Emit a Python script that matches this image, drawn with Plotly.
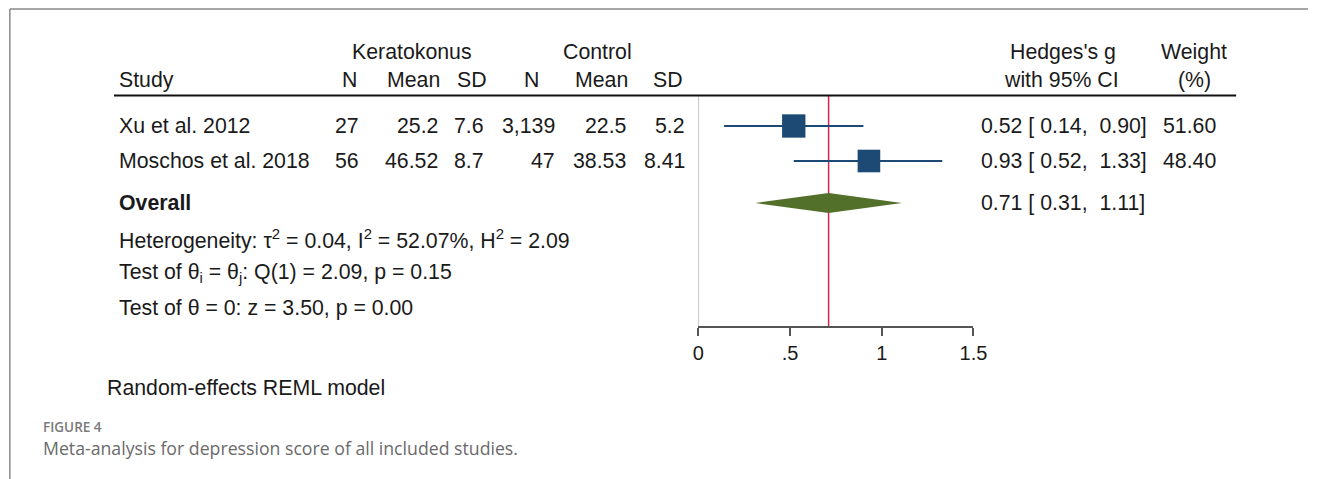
import plotly.graph_objects as go

W, H = 1322, 479

# ---------------- data ----------------
studies = ["Xu et al. 2012", "Moschos et al. 2018"]
k_n = ["27", "56"]
k_mean = ["25.2", "46.52"]
k_sd = ["7.6", "8.7"]
c_n = ["3,139", "47"]
c_mean = ["22.5", "38.53"]
c_sd = ["5.2", "8.41"]
g = [0.52, 0.93]
ci_lo = [0.14, 0.52]
ci_hi = [0.90, 1.33]
weight = [51.60, 48.40]
overall_g = 0.71
overall_lo = 0.31
overall_hi = 1.11
x_ticks = [0, 0.5, 1, 1.5]
x_tick_labels = ["0", ".5", "1", "1.5"]
stats_lines = [
    "Heterogeneity: \u03c4<sup>2</sup> = 0.04, I<sup>2</sup> = 52.07%, H<sup>2</sup> = 2.09",
    "Test of \u03b8<sub>i</sub> = \u03b8<sub>j</sub>: Q(1) = 2.09, p = 0.15",
    "Test of \u03b8 = 0: z = 3.50, p = 0.00",
]
model_note = "Random-effects REML model"
fig_label = "FIGURE 4"
caption = "Meta-analysis for depression score of all included studies."

# ---------------- layout helpers ----------------
study_rows = [1, 2]
overall_row = 3.2
stats_rows = [4.25, 5.2, 6.2]
Y_TOP_PX, Y_BOT_PX, ROW_PX = 91, 326, 35
y_max = (Y_BOT_PX - Y_TOP_PX) / ROW_PX

# horizontal calibration of the photographed page
SX, OX = 0.983, 6.2

def px(x):
    return ((x - OX) / SX) / W

def py(y):
    return 1 - y / H

FONT = "Liberation Sans, Arial, sans-serif"
CAP_FONT = "Open Sans, Noto Sans, sans-serif"
TXT = "#1a1a1a"
FS = 21.3
BLUE = "#1c4a74"
GREEN = "#52702a"
RED = "#d6244c"

fig = go.Figure()

# CI lines + weighted squares
fig.add_trace(go.Scatter(
    x=g, y=study_rows, mode="markers",
    marker=dict(symbol="square", color=BLUE, opacity=1,
                size=[3.25 * (w ** 0.5) for w in weight], line=dict(width=0)),
    error_x=dict(type="data", symmetric=False,
                 array=[h - m for h, m in zip(ci_hi, g)],
                 arrayminus=[m - l for m, l in zip(g, ci_lo)],
                 width=0, thickness=2, color=BLUE),
    hoverinfo="skip", cliponaxis=False,
))

# overall diamond
dh = 10 / ROW_PX
fig.add_trace(go.Scatter(
    x=[overall_lo, overall_g, overall_hi, overall_g, overall_lo],
    y=[overall_row, overall_row - dh, overall_row, overall_row + dh, overall_row],
    mode="lines", fill="toself", fillcolor=GREEN,
    line=dict(width=0, color=GREEN), hoverinfo="skip",
))

shapes = []
y_line_top = (96 - Y_TOP_PX) / ROW_PX
# no-effect line
shapes.append(dict(type="line", xref="x", yref="y", x0=0, x1=0, y0=y_line_top, y1=y_max,
                   line=dict(color="#a8a8a8", width=1.3), layer="below"))
# overall estimate line
shapes.append(dict(type="line", xref="x", yref="y", x0=overall_g, x1=overall_g, y0=y_line_top, y1=y_max,
                   line=dict(color=RED, width=1.5), layer="below"))
# header rule
shapes.append(dict(type="line", xref="paper", yref="paper", x0=px(114), x1=px(1234), y0=py(95.5), y1=py(95.5),
                   line=dict(color="#111", width=2)))
# frame (top + left)
shapes.append(dict(type="line", xref="paper", yref="paper", x0=px(10), x1=1, y0=py(9), y1=py(9),
                   line=dict(color="#8a8a8a", width=1.5)))
shapes.append(dict(type="line", xref="paper", yref="paper", x0=px(10), x1=px(10), y0=py(9), y1=0,
                   line=dict(color="#8a8a8a", width=1.5)))

ann = []

def txt(text, x, y, anchor="left", yref="paper", size=FS, color=TXT, family=FONT, weight=None):
    f = dict(size=size, color=color, family=family)
    if weight is not None:
        f["weight"] = weight
    ann.append(dict(text=text, x=px(x), y=(py(y) if yref == "paper" else y), xref="paper", yref=yref,
                    xanchor=anchor, yanchor="middle", showarrow=False, borderpad=0, font=f))

# headers
txt("Keratokonus", 411, 52, "center")
txt("Control", 597, 52, "center")
txt("Hedges's g", 1061, 52, "center")
txt("Weight", 1192, 52, "center")
txt("Study", 118, 80, "left")
txt("N", 358, 80, "right")
txt("Mean", 440, 80, "right")
txt("SD", 487, 80, "right")
txt("N", 539, 80, "right")
txt("Mean", 628, 80, "right")
txt("SD", 683, 80, "right")
txt("with 95% CI", 1060, 80, "center")
txt("(%)", 1192, 80, "center")

# study rows
for i, r in enumerate(study_rows):
    txt(studies[i], 118, r, "left", yref="y")
    txt(k_n[i], 360, r, "right", yref="y")
    txt(k_mean[i], 438, r, "right", yref="y")
    txt(k_sd[i], 484, r, "right", yref="y")
    txt(c_n[i], 555, r, "right", yref="y")
    txt(c_mean[i], 626, r, "right", yref="y")
    txt(c_sd[i], 685, r, "right", yref="y")
    txt(f"{g[i]:.2f} [ {ci_lo[i]:.2f}, \u00a0{ci_hi[i]:.2f}]", 978, r, "left", yref="y")
    txt(f"{weight[i]:.2f}", 1215, r, "right", yref="y")

txt("Overall", 118, overall_row, "left", yref="y", weight="bold")
txt(f"{overall_g:.2f} [ {overall_lo:.2f}, \u00a0{overall_hi:.2f}]", 978, overall_row, "left", yref="y")
for s, r in zip(stats_lines, stats_rows):
    txt(s, 118, r, "left", yref="y")

txt(model_note, 106, 388, "left")
txt(fig_label, 42, 427, "left", size=13.5, color="#7a7a7a", family=CAP_FONT, weight=600)
txt(caption, 42, 448, "left", size=17.7, color="#6a6a6a", family=CAP_FONT)

fig.update_layout(
    width=W, height=H,
    margin=dict(l=0, r=0, t=0, b=0),
    paper_bgcolor="white", plot_bgcolor="white",
    showlegend=False,
    shapes=shapes, annotations=ann,
    xaxis=dict(domain=[px(697.3), px(971.8)], range=[0, 1.5],
               showline=True, linecolor="#555", linewidth=1.5,
               ticks="outside", ticklen=8, tickwidth=1.5, tickcolor="#555",
               tickvals=x_ticks, ticktext=x_tick_labels,
               tickfont=dict(size=20, color=TXT, family=FONT),
               showgrid=False, zeroline=False, fixedrange=True),
    yaxis=dict(domain=[py(Y_BOT_PX), py(Y_TOP_PX)], range=[y_max, 0],
               showline=False, showticklabels=False, ticks="", showgrid=False,
               zeroline=False, fixedrange=True),
)

fig.write_html(
    "out.html",
    config={"displayModeBar": False},
    post_script="document.body.style.margin='0';document.body.style.overflow='hidden';",
)
